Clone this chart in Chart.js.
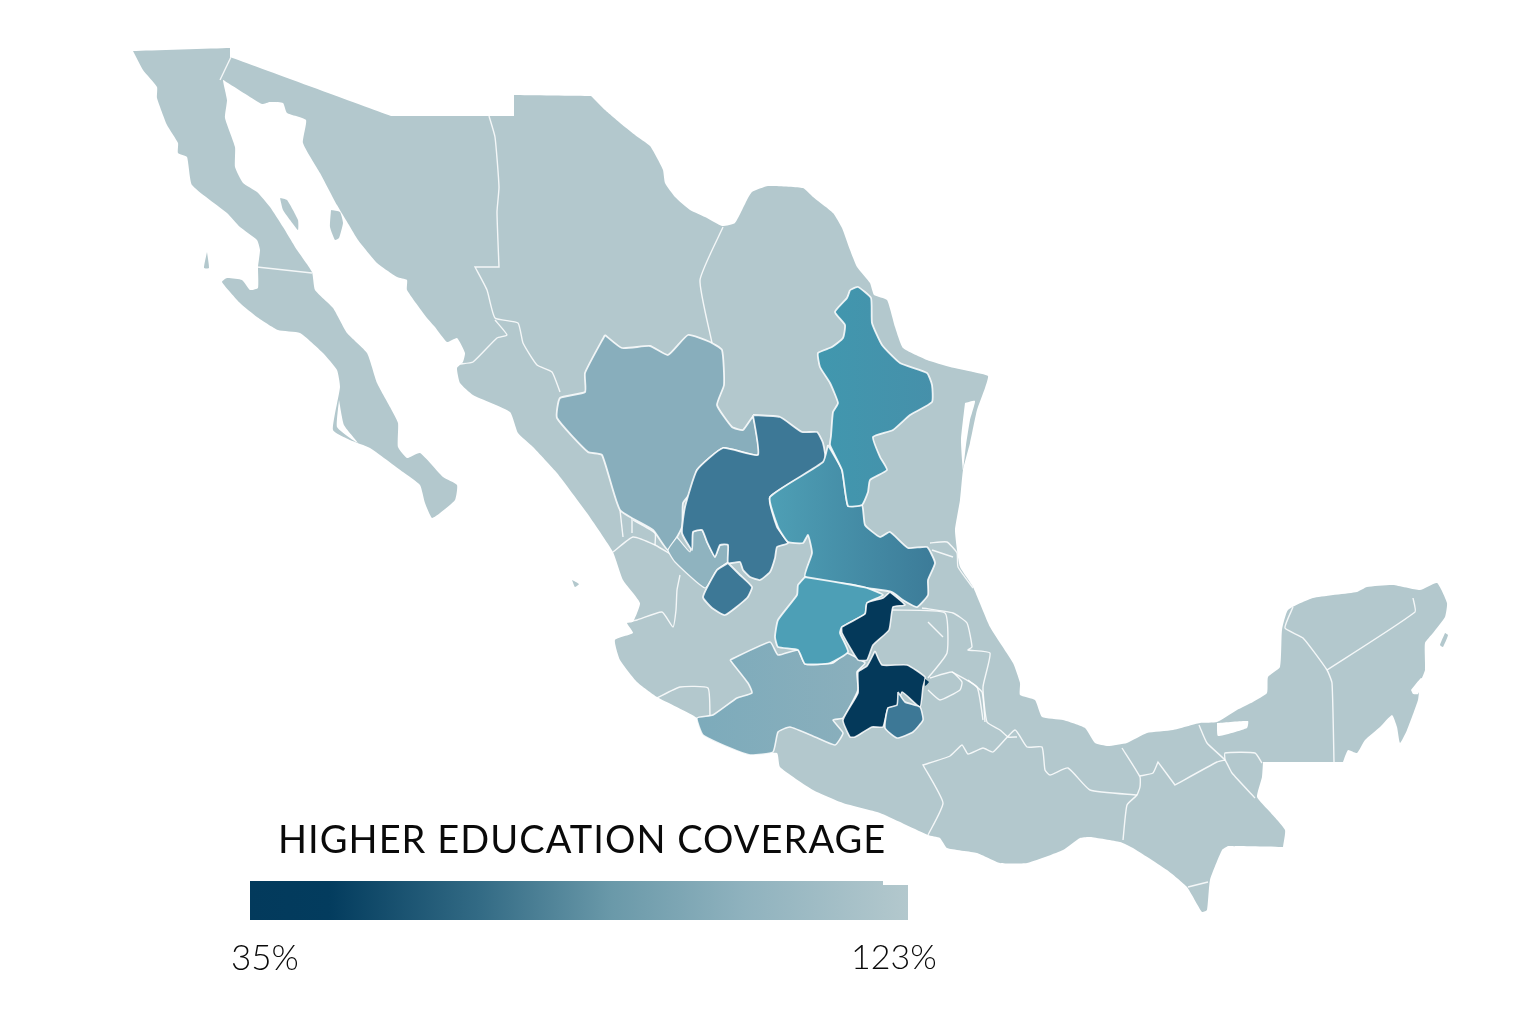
<!DOCTYPE html>
<html>
<head>
<meta charset="utf-8">
<title>Higher education coverage</title>
<script src="https://cdn.jsdelivr.net/npm/chart.js@4"></script>
<style>
  body { margin: 0; background: #fff; }
  #wrap { position: relative; width: 1536px; height: 1024px; overflow: hidden; }
  canvas { position: absolute; left: 0; top: 0; }
  .label { position: absolute; font-family: Lato, sans-serif; font-weight: 300; color: #0a0a0a; white-space: nowrap; line-height: 1; }
  #title { left: 278px; top: 819px; font-size: 38px; letter-spacing: 1.05px; font-weight: 400; }
  #low { left: 231px; top: 939px; font-size: 35px; }
  #high { left: 851px; top: 939px; font-size: 34px; }
</style>
</head>
<body>
<div id="wrap">
  <canvas id="map" width="1536" height="1024"></canvas>
  <div class="label" id="title">HIGHER EDUCATION COVERAGE</div>
  <div class="label" id="low">35%</div>
  <div class="label" id="high">123%</div>
</div>
<script>
// outline of the country (repeated points keep a corner sharp)
const mainland = [[133,51],[133,51],[230,48],[230,48],[230,57],[230,57],[391,116],[391,116],[514,116],[514,116],[514,95],[514,95],[591,96],[591,96],[605,110],[625,127],[635,135],[650,146],[657,158],[663,170],[665,183],[675,197],[690,210],[707,218],[722,226],[735,223],[747,200],[752,192],[768,186],[803,188],[813,197],[833,213],[842,228],[850,250],[857,267],[870,283],[874,295],[887,300],[895,327],[903,348],[927,360],[950,367],[973,372],[988,376],[985,388],[977,410],[970,443],[963,470],[960,500],[955,530],[957,550],[960,567],[973,587],[990,627],[1013,663],[1020,683],[1020,695],[1035,700],[1042,717],[1063,720],[1085,728],[1095,743],[1108,746],[1127,743],[1147,733],[1173,730],[1200,723],[1217,722],[1237,710],[1253,702],[1267,693],[1268,677],[1280,667],[1282,630],[1288,610],[1313,598],[1357,592],[1367,587],[1393,585],[1420,590],[1437,583],[1447,603],[1445,617],[1433,633],[1425,643],[1425,670],[1420,683],[1418,700],[1407,730],[1400,743],[1397,727],[1392,715],[1380,727],[1365,740],[1357,753],[1348,750],[1343,762],[1343,762],[1263,762],[1263,762],[1262,777],[1257,797],[1270,812],[1285,830],[1283,847],[1283,847],[1228,846],[1228,846],[1222,850],[1210,880],[1207,910],[1202,912],[1187,887],[1167,870],[1133,848],[1120,842],[1090,837],[1080,838],[1063,850],[1027,863],[1000,863],[977,853],[947,848],[940,838],[928,835],[880,813],[843,803],[813,790],[780,767],[777,753],[750,755],[730,748],[703,735],[697,718],[657,697],[637,682],[620,660],[615,640],[633,633],[627,623],[633,622],[640,603],[623,580],[613,552],[587,513],[557,473],[533,447],[518,433],[510,412],[473,395],[460,383],[457,368],[463,362],[465,353],[457,338],[447,342],[435,327],[427,318],[407,290],[407,280],[397,277],[377,263],[358,240],[349,225],[337,205],[320,173],[303,143],[306,120],[287,113],[283,103],[270,102],[262,104],[247,95],[228,83],[223,80],[227,100],[225,118],[235,147],[235,167],[243,183],[257,192],[270,207],[283,227],[297,250],[312,272],[315,290],[333,308],[347,333],[367,353],[377,383],[390,407],[398,423],[398,447],[407,458],[420,453],[443,477],[457,485],[455,500],[440,513],[432,518],[425,503],[420,485],[403,472],[370,448],[350,440],[333,430],[340,387],[337,370],[323,353],[300,333],[278,330],[257,317],[240,303],[222,282],[227,278],[242,280],[250,290],[258,288],[258,267],[260,250],[257,240],[240,227],[227,213],[192,185],[187,157],[178,153],[178,143],[167,125],[157,98],[157,87],[143,70]];
const islandAngel = [[280,198],[287,200],[298,220],[298,230],[290,220],[283,210]];
const islandTiburon = [[331,210],[340,212],[343,223],[339,238],[335,240],[330,227]];
const islandCedros = [[207,252],[209,268],[204,268]];
const islandCozumel = [[1445,633],[1448,635],[1443,647],[1440,645]];
const islandMarias = [[572,580],[579,584],[575,587]];

// water inside the outline
const lagoonMadre = [[965,403],[975,401],[970,420],[966,445],[963,470],[961,440]];
const lagoonTerminos = [[1217,723],[1248,721],[1247,728],[1218,736]];
const lagoonNichupte = [[1411,690],[1421,678],[1424,680],[1418,694],[1413,694]];
const lagoonMagdalena = [[339,400],[344,425],[358,443],[350,438],[337,427]];

// states that differ from the base colour
const durango = [[605,335],[622,348],[650,346],[668,355],[688,335],[710,342],[722,350],[724,385],[717,405],[732,427],[743,430],[753,417],[758,455],[723,448],[697,470],[693,490],[683,503],[682,527],[668,550],[653,530],[620,510],[602,455],[588,452],[557,418],[560,398],[585,392],[585,373]];
const zacatecas = [[753,415],[780,417],[802,432],[817,432],[823,443],[825,462],[770,497],[777,527],[788,543],[777,547],[775,558],[770,572],[760,580],[750,577],[743,570],[740,562],[728,563],[728,545],[720,545],[715,557],[707,542],[702,530],[693,532],[692,550],[682,533],[685,507],[697,470],[723,448],[758,455]];
const nayaritPart = [[677,537],[690,552],[693,532],[702,530],[707,542],[715,557],[720,545],[728,545],[730,560],[717,570],[705,588],[675,562],[668,550]];
const aguascalientes = [[728,563],[740,575],[752,587],[747,598],[725,615],[712,608],[703,597],[717,570]];
const nuevoLeon = [[850,290],[858,287],[871,298],[872,323],[882,345],[900,363],[927,373],[932,385],[932,402],[910,415],[893,430],[873,437],[880,457],[887,470],[870,480],[868,492],[862,505],[848,506],[842,470],[830,445],[831,436],[833,412],[838,403],[830,383],[820,367],[818,353],[832,347],[843,338],[845,325],[835,312],[847,298]];
const sanLuis = [[828,445],[842,470],[848,506],[862,505],[865,525],[880,537],[890,532],[908,548],[927,547],[935,563],[928,580],[928,595],[917,607],[903,600],[892,592],[867,588],[853,585],[805,577],[812,553],[808,535],[803,543],[788,542],[778,527],[770,497],[823,462]];
const guanajuato = [[805,577],[853,585],[867,588],[883,595],[867,603],[865,614],[842,627],[840,633],[848,652],[830,663],[805,664],[798,650],[778,647],[775,637],[778,620],[797,595],[798,585]];
const queretaro = [[890,592],[905,605],[893,607],[889,630],[873,645],[867,660],[858,660],[842,633],[842,627],[865,614],[867,603],[883,598]];
const mexicoState = [[875,651],[882,665],[907,665],[925,677],[923,687],[920,707],[902,692],[897,707],[888,708],[883,727],[872,727],[855,737],[850,737],[843,720],[858,693],[858,672],[867,666]];
const morelos = [[898,692],[905,702],[920,707],[923,720],[913,732],[897,738],[885,728],[888,708],[897,705]];
const tlaxcala = [[925,679],[929,682],[925,686]];
const michoacan = [[730,660],[770,642],[778,655],[798,650],[805,664],[833,663],[846,653],[865,663],[857,672],[858,690],[843,718],[833,720],[843,733],[835,745],[815,737],[790,727],[778,732],[773,752],[750,755],[730,748],[703,735],[697,718],[713,715],[737,698],[752,693],[748,683]];

// state borders on the base colour
const borderLines = [
  [[257,267],[312,273]],
  [[231,57],[220,80]],
  [[489,116],[495,137],[499,187],[497,212],[499,267],[499,267],[475,267],[475,267],[487,290],[495,318],[518,323],[523,343],[537,365],[552,372],[560,392]],
  [[495,320],[507,335],[497,338],[473,362],[460,364]],
  [[723,227],[700,280],[712,343]],
  [[613,552],[633,537],[655,545],[672,555]],
  [[620,510],[623,537]],
  [[632,515],[632,533]],
  [[633,520],[655,533],[655,545]],
  [[680,575],[677,590],[676,610],[673,627],[662,612],[637,620],[627,622]],
  [[657,698],[680,687],[708,688],[710,717]],
  [[930,543],[947,542],[957,553],[958,567],[973,588]],
  [[932,550],[953,557]],
  [[922,608],[953,613],[967,623],[972,647],[968,650],[990,653],[983,687],[987,722],[1000,730],[1008,737],[1017,737]],
  [[892,610],[945,613],[947,653],[928,678]],
  [[928,622],[943,637]],
  [[928,690],[940,700],[960,690],[962,682],[952,672],[930,678]],
  [[952,672],[977,687],[983,720]],
  [[968,680],[982,692],[985,722]],
  [[928,835],[943,803],[923,765],[923,765],[950,756],[962,745],[968,754],[983,748],[993,752],[1015,730],[1027,747],[1042,747],[1045,770],[1050,775],[1068,768],[1090,790],[1137,795]],
  [[1122,748],[1140,777],[1140,787],[1137,795],[1127,805],[1123,840]],
  [[1140,776],[1153,773],[1158,762],[1158,762],[1175,785],[1175,785],[1217,762],[1225,760]],
  [[1199,725],[1207,743],[1225,760],[1232,773],[1255,798]],
  [[1225,760],[1225,753],[1255,753],[1262,763]],
  [[1188,887],[1208,882]],
  [[1293,607],[1285,628],[1303,638],[1327,670],[1332,683],[1334,762]],
  [[1327,670],[1415,612],[1413,598]],
  [[838,404],[848,405],[853,412]]
];

// colour scale legend
const legendBar = [[250,881],[883,881],[883,885],[908,885],[908,920],[250,920]];
const legendStops = [[0, '#033a5c'], [0.12, '#033c5e'], [0.35, '#336b85'], [0.55, '#6a99a9'], [0.75, '#8fb2be'], [1, '#b3c8cd']];

const baseColor = '#b3c8cd';
const borderColor = 'rgba(255,255,255,0.85)';
const mapWidth = 1536;
const mapHeight = 1024;

function gradient(chart, x0, x1, stops) {
  // the scales are not laid out yet when this first runs
  const k = chart.width / mapWidth;
  const g = chart.ctx.createLinearGradient(x0 * k, 0, x1 * k, 0);
  stops.forEach(s => g.addColorStop(s[0], s[1]));
  return g;
}

function shape(points, fillColor, stroke, width, tension = 0.15) {
  return {
    data: points.concat([points[0]]),
    showLine: true,
    fill: 'shape',
    backgroundColor: fillColor,
    borderColor: stroke,
    borderWidth: width,
    pointRadius: 0,
    tension: tension,
    clip: false
  };
}

function line(points) {
  return { data: points, showLine: true, fill: false, borderColor: borderColor, borderWidth: 1.4, pointRadius: 0, tension: 0.15, clip: false };
}

// paint order, bottom to top
const layers = [
  shape(mainland, baseColor, baseColor, 0),
  shape(islandAngel, baseColor, baseColor, 0),
  shape(islandTiburon, baseColor, baseColor, 0),
  shape(islandCedros, baseColor, baseColor, 0),
  shape(islandCozumel, baseColor, baseColor, 0),
  shape(islandMarias, baseColor, baseColor, 0),
  shape(lagoonMadre, '#ffffff', '#ffffff', 0),
  shape(lagoonTerminos, '#ffffff', '#ffffff', 0),
  shape(lagoonNichupte, '#ffffff', '#ffffff', 0),
  shape(lagoonMagdalena, '#ffffff', '#ffffff', 0),
  ...borderLines.map(line),
  shape(durango, '#88aebc', borderColor, 1.8),
  shape(nayaritPart, '#8fb3bf', borderColor, 1.2),
  shape(michoacan, ctx => gradient(ctx.chart, 700, 860, [[0, '#7dabbb'], [1, '#8aafbc']]), borderColor, 1.6),
  shape(zacatecas, '#3d7896', borderColor, 1.8),
  shape(aguascalientes, '#3d7896', borderColor, 1.8),
  shape(sanLuis, ctx => gradient(ctx.chart, 770, 935, [[0, '#4e9fb5'], [1, '#3c7b98']]), borderColor, 1.8),
  shape(nuevoLeon, ctx => gradient(ctx.chart, 820, 935, [[0, '#4197ae'], [1, '#4690aa']]), borderColor, 1.8),
  shape(guanajuato, '#4d9fb6', borderColor, 1.8),
  shape(queretaro, '#04395a', borderColor, 1.6),
  shape(mexicoState, '#04395a', borderColor, 1.6),
  shape(morelos, '#3d7896', borderColor, 1.6),
  shape(tlaxcala, '#04395a', '#04395a', 0),
  shape(legendBar, ctx => gradient(ctx.chart, 250, 908, legendStops), 'rgba(0,0,0,0)', 0, 0)
];

new Chart(document.getElementById('map'), {
  type: 'scatter',
  data: { datasets: layers.reverse() },
  options: {
    responsive: false,
    animation: false,
    layout: { padding: 0 },
    plugins: { legend: { display: false }, tooltip: { enabled: false } },
    scales: {
      x: { type: 'linear', min: 0, max: mapWidth, display: false },
      y: { type: 'linear', min: 0, max: mapHeight, reverse: true, display: false }
    }
  }
});
</script>
</body>
</html>
